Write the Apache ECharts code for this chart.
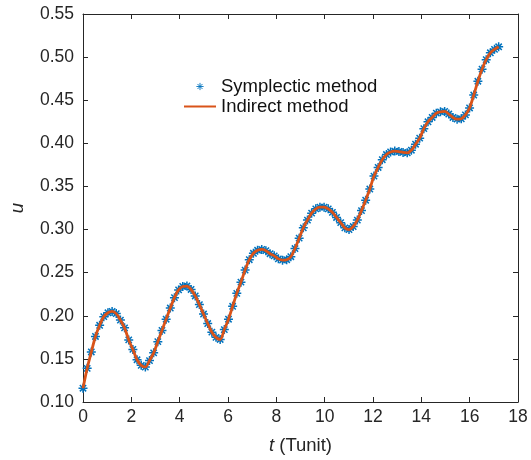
<!DOCTYPE html>
<html>
<head>
<meta charset="utf-8">
<title>u(t)</title>
<script src="https://cdn.jsdelivr.net/npm/echarts@6/dist/echarts.min.js"></script>
<style>
  html, body { margin: 0; padding: 0; background: #fff; }
  #chart { width: 531px; height: 460px; }
</style>
</head>
<body>
<div id="chart"></div>
<script>
// Sample times (Tunit)
const tValues = [0, 0.172, 0.344, 0.516, 0.688, 0.86, 1.032, 1.204, 1.376, 1.548, 1.72, 1.892, 2.064, 2.236, 2.408, 2.58, 2.752, 2.924, 3.096, 3.268, 3.44, 3.612, 3.784, 3.956, 4.128, 4.3, 4.472, 4.644, 4.816, 4.988, 5.16, 5.332, 5.504, 5.676, 5.848, 6.02, 6.192, 6.364, 6.536, 6.708, 6.88, 7.052, 7.224, 7.396, 7.568, 7.74, 7.912, 8.084, 8.256, 8.428, 8.6, 8.772, 8.944, 9.116, 9.288, 9.46, 9.632, 9.804, 9.976, 10.148, 10.32, 10.492, 10.664, 10.836, 11.008, 11.18, 11.352, 11.524, 11.696, 11.868, 12.04, 12.212, 12.384, 12.556, 12.728, 12.9, 13.072, 13.244, 13.416, 13.588, 13.76, 13.932, 14.104, 14.276, 14.448, 14.62, 14.792, 14.964, 15.136, 15.308, 15.48, 15.652, 15.824, 15.996, 16.168, 16.34, 16.512, 16.684, 16.856, 17.028, 17.2];

// u computed by the symplectic scheme
const symplecticU = [0.116, 0.139, 0.158, 0.176, 0.189, 0.199, 0.2035, 0.205, 0.2025, 0.195, 0.186, 0.172, 0.161, 0.149, 0.1425, 0.1405, 0.148, 0.157, 0.170, 0.183, 0.196, 0.209, 0.221, 0.230, 0.234, 0.2345, 0.2305, 0.223, 0.213, 0.202, 0.191, 0.181, 0.175, 0.1725, 0.184, 0.196, 0.211, 0.226, 0.239, 0.253, 0.265, 0.2725, 0.276, 0.277, 0.2755, 0.272, 0.2695, 0.266, 0.2645, 0.265, 0.2685, 0.278, 0.290, 0.302, 0.311, 0.319, 0.324, 0.326, 0.326, 0.324, 0.320, 0.314, 0.308, 0.302, 0.300, 0.3035, 0.311, 0.322, 0.334, 0.347, 0.362, 0.372, 0.381, 0.387, 0.390, 0.391, 0.3905, 0.3895, 0.389, 0.392, 0.399, 0.406, 0.417, 0.425, 0.430, 0.435, 0.4365, 0.437, 0.434, 0.430, 0.428, 0.4285, 0.433, 0.441, 0.456, 0.472, 0.486, 0.497, 0.505, 0.509, 0.512];

// u computed by the indirect method (coincides with the symplectic result)
const indirectU = symplecticU.slice();

const xTicks = { min: 0, max: 18, step: 2 };
const yTicks = { min: 0.10, max: 0.55, step: 0.05 };

const seriesNames = ['Symplectic method', 'Indirect method'];

const pairs = (xs, ys) => xs.map((x, i) => [x, ys[i]]);

const FONT = "'Liberation Sans', Arial, Helvetica, sans-serif";
const AXIS_COLOR = '#262626';
const BLUE = '#0072BD';
const ORANGE = '#D95319';

// asterisk marker: plus + cross drawn as strokes
const ASTERISK = 'path://M10 0 L10 20 M0 10 L20 10 M3 3 L17 17 M17 3 L3 17';

const boxAxis = (pos, t) => ({
  type: 'value',
  position: pos,
  min: t.min, max: t.max, interval: t.step,
  axisLine: { show: true, onZero: false, lineStyle: { color: AXIS_COLOR, width: 1 } },
  axisTick: { show: true, inside: true, length: 5, lineStyle: { color: AXIS_COLOR } },
  axisLabel: { show: false },
  splitLine: { show: false }
});

const chart = echarts.init(document.getElementById('chart'), null, { renderer: 'canvas' });

chart.setOption({
  backgroundColor: '#ffffff',
  animation: false,
  grid: { left: 77, right: 13, top: 14, bottom: 53, containLabel: false },
  legend: {
    orient: 'vertical',
    left: 178,
    top: 72,
    itemWidth: 32,
    itemHeight: 9,
    itemGap: 1,
    textStyle: { fontFamily: FONT, fontSize: 18.5, color: '#111' },
    data: [
      { name: seriesNames[0], itemStyle: { borderWidth: 0.9 } },
      { name: seriesNames[1], itemStyle: { opacity: 0 } }
    ]
  },
  xAxis: [
    {
      type: 'value',
      position: 'bottom',
      min: xTicks.min, max: xTicks.max, interval: xTicks.step,
      name: '{i|t} (Tunit)',
      nameLocation: 'middle',
      nameGap: 34,
      nameTextStyle: {
        fontFamily: FONT, fontSize: 18.5, color: AXIS_COLOR,
        rich: { i: { fontFamily: FONT, fontSize: 18.5, fontStyle: 'italic', color: AXIS_COLOR } }
      },
      axisLine: { show: true, onZero: false, lineStyle: { color: AXIS_COLOR, width: 1 } },
      axisTick: { show: true, inside: true, length: 5, lineStyle: { color: AXIS_COLOR } },
      axisLabel: { fontFamily: FONT, fontSize: 17.5, color: AXIS_COLOR, margin: 6 },
      splitLine: { show: false }
    },
    boxAxis('top', xTicks)
  ],
  yAxis: [
    {
      type: 'value',
      position: 'left',
      min: yTicks.min, max: yTicks.max, interval: yTicks.step,
      name: 'u',
      nameLocation: 'middle',
      nameGap: 56,
      nameRotate: 90,
      nameTextStyle: { fontFamily: FONT, fontSize: 18.5, fontStyle: 'italic', color: AXIS_COLOR },
      axisLine: { show: true, onZero: false, lineStyle: { color: AXIS_COLOR, width: 1 } },
      axisTick: { show: true, inside: true, length: 5, lineStyle: { color: AXIS_COLOR } },
      axisLabel: {
        fontFamily: FONT, fontSize: 17.5, color: AXIS_COLOR, margin: 9,
        formatter: v => v.toFixed(2)
      },
      splitLine: { show: false }
    },
    boxAxis('right', yTicks)
  ],
  series: [
    {
      name: seriesNames[0],
      type: 'line',
      xAxisIndex: 0, yAxisIndex: 0,
      data: pairs(tValues, symplecticU),
      symbol: ASTERISK,
      symbolSize: 9,
      showSymbol: true,
      lineStyle: { width: 0, opacity: 0 },
      itemStyle: { color: BLUE, borderColor: BLUE, borderWidth: 1.5 },
      emphasis: { disabled: true },
      z: 2
    },
    {
      name: seriesNames[1],
      type: 'line',
      xAxisIndex: 0, yAxisIndex: 0,
      data: pairs(tValues, indirectU),
      smooth: 0.3,
      showSymbol: false,
      symbol: 'none',
      lineStyle: { color: ORANGE, width: 2.8 },
      itemStyle: { color: ORANGE },
      emphasis: { disabled: true },
      z: 3
    }
  ]
});
</script>
</body>
</html>
